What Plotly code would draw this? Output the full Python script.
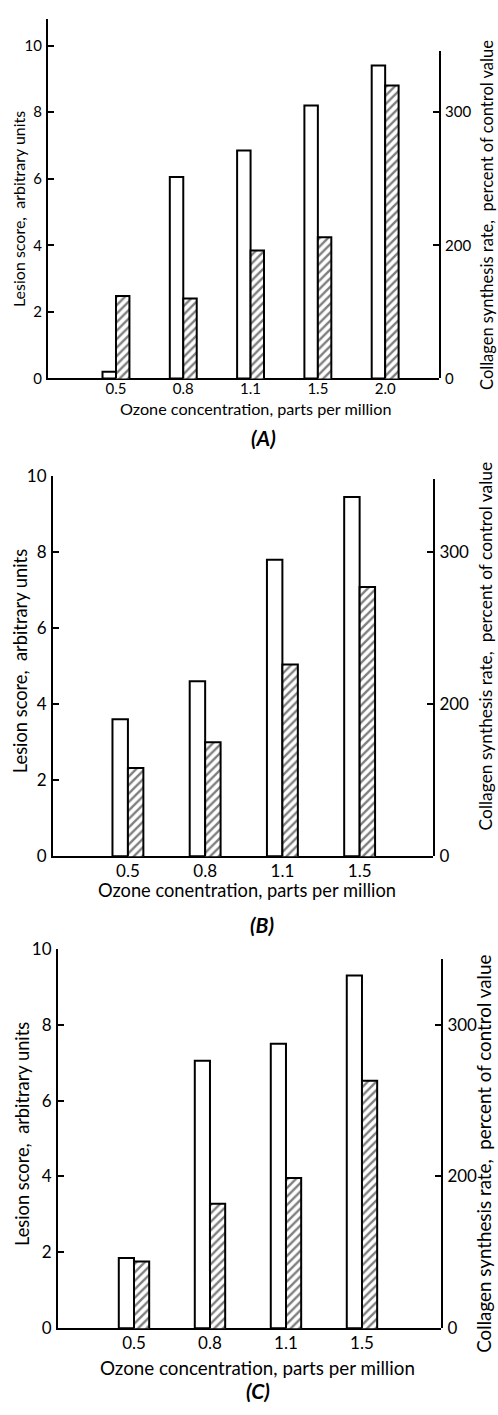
import plotly.graph_objects as go

W, H = 498, 1415

# ---------------- data ----------------
conc_A = ["0.5", "0.8", "1.1", "1.5", "2.0"]
lesion_A = [0.2, 6.05, 6.85, 8.2, 9.4]
collagen_A = [162, 160, 196, 206, 320]

conc_B = ["0.5", "0.8", "1.1", "1.5"]
lesion_B = [3.6, 4.6, 7.8, 9.45]
collagen_B = [158, 175, 226, 277]

conc_C = ["0.5", "0.8", "1.1", "1.5"]
lesion_C = [1.85, 7.05, 7.5, 9.3]
collagen_C = [144, 182, 199, 263]

left_ticks = [0, 2, 4, 6, 8, 10]
right_tickvals = [100, 200, 300]
right_ticktext = ["0", "200", "300"]

FONT = "Lato"


def px(x):
    return x / W


def py(y):
    return 1 - y / H


fig = go.Figure()

panels = [
    dict(c=conc_A, l=lesion_A, k=collagen_A, x0=48, x1=439, base=373, ltop=8, lmax=10.8,
         rtop=41, rmax=345.6, xr=[-1.01, 4.80], fs=15, xstand=-4),
    dict(c=conc_B, l=lesion_B, k=collagen_B, x0=53, x1=433, base=858, ltop=472, lmax=10,
         rtop=475, rmax=348, xr=[-0.97, 3.95], fs=17, xstand=-2),
    dict(c=conc_C, l=lesion_C, k=collagen_C, x0=58, x1=441, base=1337, ltop=952, lmax=10,
         rtop=962, rmax=343.5, xr=[-1.0, 4.04], fs=17, xstand=-2),
]

layout = dict(
    width=W, height=H, margin=dict(l=0, r=0, t=0, b=0),
    paper_bgcolor="white", plot_bgcolor="rgba(0,0,0,0)",
    showlegend=False, barmode="overlay",
    font=dict(family=FONT, color="black"),
)

for i, p in enumerate(panels):
    xn = "x" if i == 0 else f"x{i + 1}"
    yl = "y" if i == 0 else f"y{2 * i + 1}"
    yr = f"y{2 * i + 2}"
    xk = "xaxis" if i == 0 else f"xaxis{i + 1}"
    ylk = "yaxis" if i == 0 else f"yaxis{2 * i + 1}"
    yrk = f"yaxis{2 * i + 2}"

    fig.add_trace(go.Bar(
        x=p["c"], y=p["l"], xaxis=xn, yaxis=yl, width=0.2, offset=-0.2,
        marker=dict(color="white", line=dict(color="black", width=2)),
    ))
    fig.add_trace(go.Bar(
        x=p["c"], y=p["k"], xaxis=xn, yaxis=yr, width=0.2, offset=0.0,
        marker=dict(color="white", line=dict(color="black", width=2),
                    pattern=dict(shape="/", fgcolor="black", bgcolor="white",
                                 size=6, solidity=0.4)),
    ))

    layout[xk] = dict(
        domain=[px(p["x0"]), px(p["x1"])], anchor=yl, range=p["xr"],
        type="category", showline=True, linecolor="black", linewidth=2,
        ticks="", showgrid=False, zeroline=False,
        tickfont=dict(size=p["fs"], family=FONT), ticklabelstandoff=p["xstand"],
    )
    layout[ylk] = dict(
        domain=[py(p["base"]), py(p["ltop"])], anchor=xn, range=[0, p["lmax"]],
        tickvals=left_ticks, showline=True, linecolor="black", linewidth=2,
        ticks="inside", ticklen=6, tickwidth=1.5, tickcolor="black",
        showgrid=False, zeroline=False,
        tickfont=dict(size=p["fs"], family=FONT), ticklabelstandoff=1,
    )
    layout[yrk] = dict(
        domain=[py(p["base"]), py(p["rtop"])], anchor=xn, side="right",
        range=[100, p["rmax"]], tickvals=right_tickvals, ticktext=right_ticktext,
        showline=True, linecolor="black", linewidth=2,
        ticks="inside", ticklen=6, tickwidth=1.5, tickcolor="black",
        showgrid=False, zeroline=False,
        tickfont=dict(size=p["fs"], family=FONT), ticklabelstandoff=1,
    )

fig.update_layout(**layout)

ann = []


def text(x, y, t, size, angle=0, italic=False):
    s = t
    if italic:
        s = f"<b><i>{t}</i></b>"
    ann.append(dict(x=px(x), y=py(y), xref="paper", yref="paper", text=s,
                    showarrow=False, textangle=angle, xanchor="center",
                    yanchor="middle", font=dict(size=size, family=FONT, color="black")))


xt = "Ozone concentration, parts per million"
lt = "Lesion score,  arbitrary units"
rt = "Collagen synthesis rate,  percent of control value"

# Panel A
text(18, 201, lt, 16, -90)
text(255, 403, xt, 16.2)
text(263, 433, "(A)", 21, italic=True)
text(487, 207, rt, 16.5, -90)
# Panel B
text(20, 660, lt, 18.3, -90)
text(247, 892, "Ozone conentration, parts per million", 18.3)
text(262, 927, "(B)", 21, italic=True)
text(485, 645, rt, 17.4, -90)
# Panel C
text(22, 1140, lt, 18.3, -90)
text(257, 1377, xt, 18.8)
text(258, 1400, "(C)", 21, italic=True)
text(484, 1160, rt, 18.8, -90)

fig.update_layout(annotations=ann)

fig.write_html("out.html")
